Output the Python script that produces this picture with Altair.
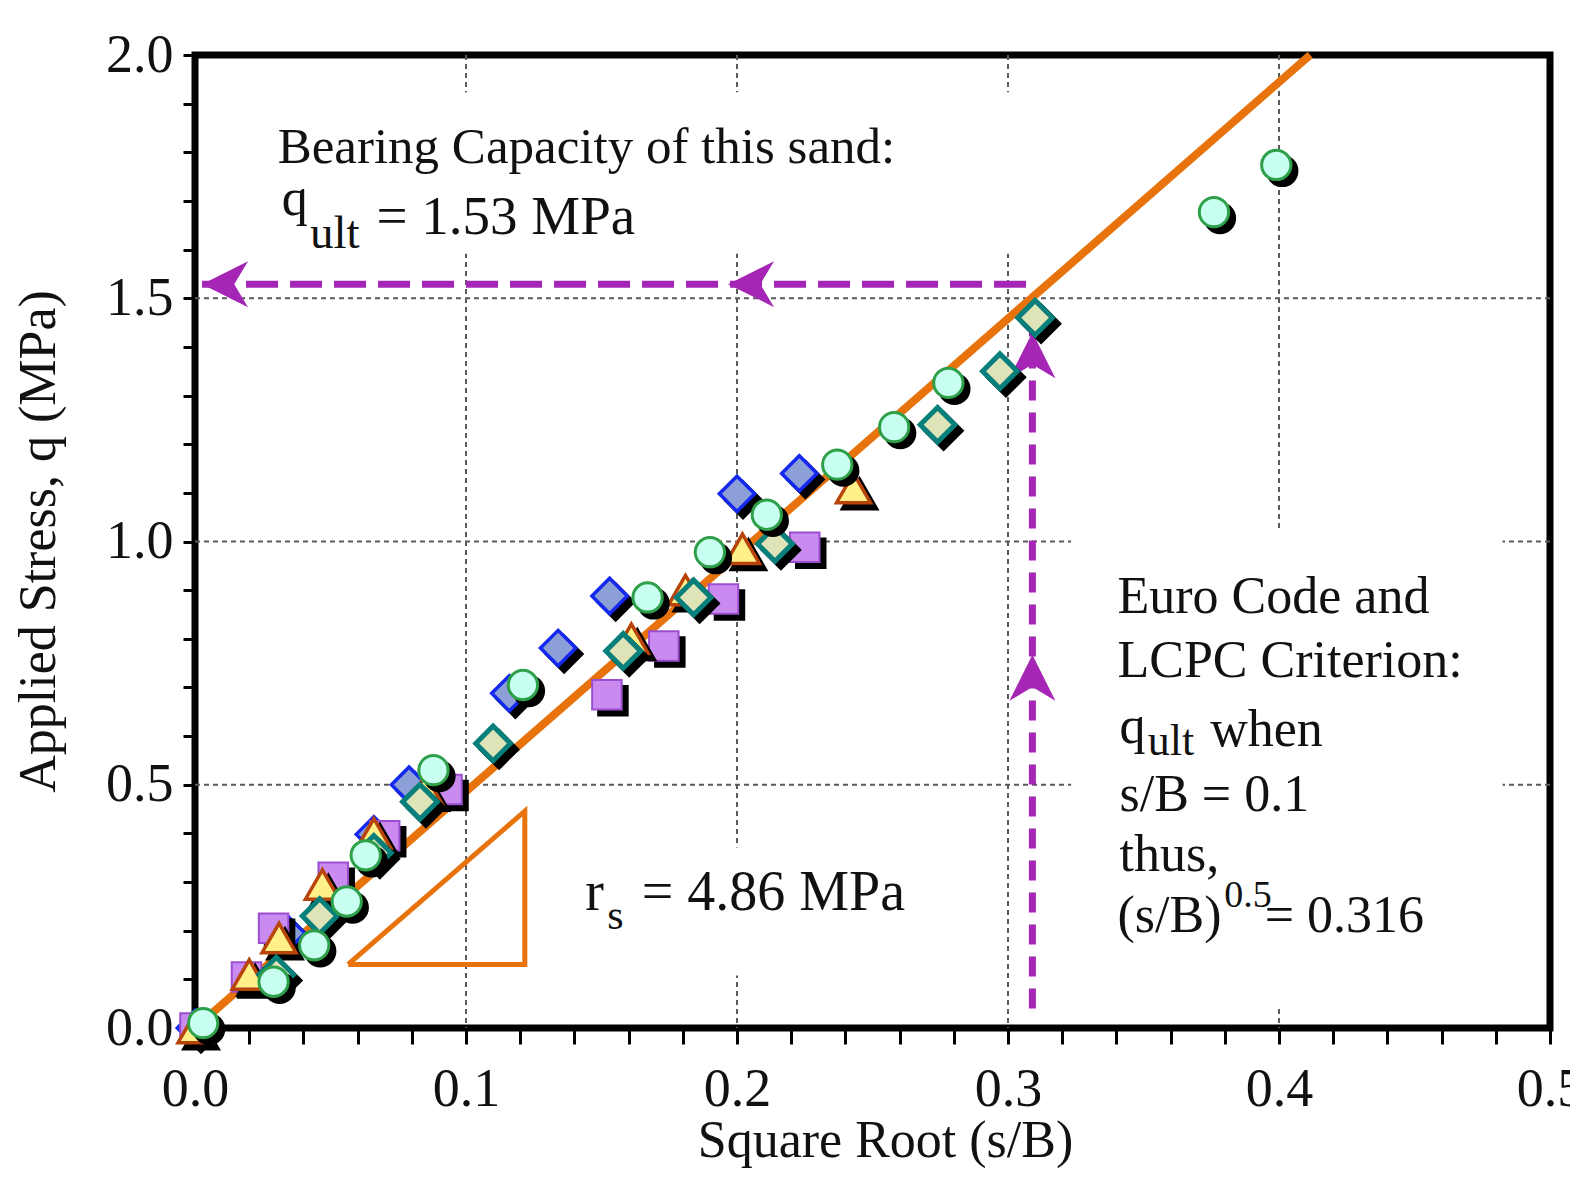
import altair as alt
import pandas as pd

# ---------------- data ----------------
blue_x = [0.0, 0.034, 0.066, 0.079, 0.116, 0.134, 0.153, 0.200, 0.223]
blue_y = [0.0, 0.195, 0.398, 0.500, 0.688, 0.781, 0.888, 1.098, 1.140]

square_x = [0.0, 0.019, 0.029, 0.051, 0.070, 0.093, 0.152, 0.173, 0.195, 0.225]
square_y = [0.0, 0.105, 0.205, 0.310, 0.395, 0.490, 0.685, 0.785, 0.882, 0.988]

tri_x = [0.0, 0.020, 0.031, 0.047, 0.066, 0.085, 0.161, 0.181, 0.202, 0.243]
tri_y = [0.0, 0.110, 0.185, 0.295, 0.400, 0.490, 0.800, 0.900, 0.985, 1.110]

teal_x = [0.030, 0.046, 0.066, 0.083, 0.110, 0.158, 0.184, 0.214, 0.274, 0.297, 0.310]
teal_y = [0.110, 0.230, 0.360, 0.465, 0.585, 0.775, 0.885, 0.995, 1.240, 1.350, 1.460]

circle_x = [0.003, 0.029, 0.044, 0.056, 0.063, 0.088, 0.121, 0.167, 0.190, 0.211,
            0.237, 0.258, 0.278, 0.376, 0.399]
circle_y = [0.010, 0.095, 0.170, 0.260, 0.355, 0.530, 0.705, 0.885, 0.978, 1.055,
            1.158, 1.235, 1.326, 1.677, 1.774]

fit_x = [0.0, 0.4115]
fit_y = [0.0, 2.0]

# slope triangle (r_s indicator)
slope_x = [0.0565, 0.1217, 0.1217, 0.0565]
slope_y = [0.1306, 0.1306, 0.4456, 0.1306]

q_ult = 1.529          # horizontal purple arrow level
x_crit = 0.309         # vertical purple arrow position

x_major = [0.1, 0.2, 0.3, 0.4]
y_major = [0.5, 1.0, 1.5]
x_ticks = [round(i * 0.02, 2) for i in range(26)]
y_ticks = [round(i * 0.1, 1) for i in range(21)]

# ---------------- layout helpers ----------------
W, H = 1355, 973
def X(px):
    return (px - 193) / 2688.0
def Y(py):
    return (1020 - py) / 482.5

xs = alt.Scale(domain=[0, 0.5], nice=False, zero=False)
ys = alt.Scale(domain=[0, 2.0], nice=False, zero=False)

PURPLE = "#a526b5"
ORANGE = "#e8730c"

# gridlines
gx = alt.Chart(pd.DataFrame({"x": x_major})).mark_rule(
    color="#5a5a5a", strokeWidth=2, strokeDash=[5, 4]
).encode(x=alt.X("x:Q", scale=xs), y=alt.value(0), y2=alt.value(H))
gy = alt.Chart(pd.DataFrame({"y": y_major})).mark_rule(
    color="#5a5a5a", strokeWidth=2, strokeDash=[5, 4]
).encode(y=alt.Y("y:Q", scale=ys), x=alt.value(0), x2=alt.value(W))

# white boxes behind the text blocks (they interrupt the grid)
boxes = pd.DataFrame({
    "x": [X(265), X(1062), X(560)],
    "x2": [X(1012), X(1490), X(905)],
    "y": [Y(92), Y(527), Y(841)],
    "y2": [Y(252), Y(1000), Y(968)],
})
box_layer = alt.Chart(boxes).mark_rect(fill="white").encode(
    x=alt.X("x:Q", scale=xs), x2="x2:Q", y=alt.Y("y:Q", scale=ys), y2="y2:Q"
)

fit = alt.Chart(pd.DataFrame({"x": fit_x, "y": fit_y})).mark_line(
    color=ORANGE, strokeWidth=8
).encode(x=alt.X("x:Q", scale=xs), y=alt.Y("y:Q", scale=ys))

slope = alt.Chart(pd.DataFrame({"x": slope_x, "y": slope_y, "o": list(range(4))})).mark_line(
    color=ORANGE, strokeWidth=5, strokeJoin="miter"
).encode(x=alt.X("x:Q", scale=xs), y=alt.Y("y:Q", scale=ys), order="o:Q")

hline = alt.Chart(pd.DataFrame({"x": [0.0026], "x2": [x_crit], "y": [q_ult]})).mark_rule(
    color=PURPLE, strokeWidth=7, strokeDash=[32, 12]
).encode(x=alt.X("x:Q", scale=xs), x2="x2:Q", y=alt.Y("y:Q", scale=ys))
vline = alt.Chart(pd.DataFrame({"x": [x_crit], "y": [0.04], "y2": [1.43]})).mark_rule(
    color=PURPLE, strokeWidth=7, strokeDash=[20, 12]
).encode(x=alt.X("x:Q", scale=xs), y=alt.Y("y:Q", scale=ys), y2="y2:Q")

left_head = "M 0 0 L 2 -1 L 1.4 0 L 2 1 Z"
up_head = "M 0 0 L 1 2 L 0 1.4 L -1 2 Z"
heads_l = alt.Chart(pd.DataFrame({"x": [0.0026, 0.1967], "y": [q_ult, q_ult]})).mark_point(
    shape=left_head, filled=True, color=PURPLE, size=2116, opacity=1
).encode(x=alt.X("x:Q", scale=xs), y=alt.Y("y:Q", scale=ys))
heads_u = alt.Chart(pd.DataFrame({"x": [x_crit, x_crit], "y": [1.43, 0.767]})).mark_point(
    shape=up_head, filled=True, color=PURPLE, size=2116, opacity=1
).encode(x=alt.X("x:Q", scale=xs), y=alt.Y("y:Q", scale=ys))


def series(xv, yv, shape, fill, stroke, size, sw):
    df = pd.DataFrame({"x": xv, "y": yv})
    enc = dict(x=alt.X("x:Q", scale=xs), y=alt.Y("y:Q", scale=ys))
    shadow = alt.Chart(df).mark_point(
        shape=shape, filled=True, fill="black", stroke="black", strokeWidth=sw,
        size=size, opacity=1, xOffset=6, yOffset=6
    ).encode(**enc)
    main = alt.Chart(df).mark_point(
        shape=shape, filled=True, fill=fill, stroke=stroke, strokeWidth=sw,
        size=size, opacity=1
    ).encode(**enc)
    return [shadow, main]


pts = []
pts += series(blue_x, blue_y, "diamond", "#8c9fd6", "#1428f0", 1250, 3.5)
pts += series(square_x, square_y, "square", "#c98bf0", "#9b4fd0", 870, 2)
pts += series(tri_x, tri_y, "triangle-up", "#fff08a", "#b8440a", 1150, 3.5)
pts += series(teal_x, teal_y, "diamond", "#dfe4b8", "#087f7a", 1200, 5)
pts += series(circle_x, circle_y, "circle", "#c8fff0", "#2ea04a", 860, 3)

# annotation text pieces: (text, left px, baseline px, font size)
ann = [
    ("Bearing Capacity of this sand:", 275, 162, 51),
    ("q", 279, 214, 52),
    ("ult", 307, 246, 47),
    ("= 1.53 MPa", 373, 233, 55),
    ("r", 580, 903, 56),
    ("s", 602, 922, 42),
    ("= 4.86 MPa", 636, 903, 56),
    ("Euro Code and", 1108, 608, 52),
    ("LCPC Criterion:", 1108, 672, 52),
    ("q", 1110, 737, 52),
    ("ult", 1138, 749, 44),
    ("when", 1200, 740, 52),
    ("s/B = 0.1", 1110, 805, 52),
    ("thus,", 1110, 864, 52),
    ("(s/B)", 1108, 925, 52),
    ("0.5", 1214, 900, 38),
    ("= 0.316", 1254, 925, 52),
]
ann_df = pd.DataFrame({
    "t": [a[0] for a in ann],
    "x": [X(a[1]) for a in ann],
    "y": [Y(a[2]) for a in ann],
    "s": [a[3] for a in ann],
})
text = alt.Chart(ann_df).mark_text(
    align="left", baseline="alphabetic", font="Liberation Serif", color="#111111"
).encode(
    x=alt.X("x:Q", scale=xs), y=alt.Y("y:Q", scale=ys), text="t:N",
    size=alt.Size("s:Q", scale=None, legend=None)
)

# axes carried by an invisible layer
axis_layer = alt.Chart(pd.DataFrame({"x": [0.0], "y": [0.0]})).mark_point(opacity=0).encode(
    x=alt.X("x:Q", scale=xs, axis=alt.Axis(
        values=x_ticks, title="Square Root (s/B)", grid=False, domain=False,
        labelExpr="abs(datum.value*10 - round(datum.value*10)) < 0.001 ? format(datum.value, '.1f') : ''",
        labelOverlap=False, labelFlush=False, tickSize=16, tickWidth=3, tickColor="black",
        labelPadding=18, labelFontSize=54, labelFont="Liberation Serif", labelColor="#111111",
        titleFontSize=52, titleFont="Liberation Serif", titleFontWeight="normal", titleColor="#111111",
        titleX=690, titleY=128, titleBaseline="alphabetic", titleAnchor="middle",
    )),
    y=alt.Y("y:Q", scale=ys, axis=alt.Axis(
        values=y_ticks, title="Applied Stress, q (MPa)", grid=False, domain=False,
        labelExpr="abs(datum.value*2 - round(datum.value*2)) < 0.001 ? format(datum.value, '.1f') : ''",
        labelOverlap=False, labelFlush=False, tickSize=12, tickWidth=3, tickColor="black",
        labelPadding=10, labelFontSize=54, labelFont="Liberation Serif", labelColor="#111111",
        titleFontSize=52, titleFont="Liberation Serif", titleFontWeight="normal", titleColor="#111111",
        titleX=-157, titleY=486, titleAngle=-90, titleBaseline="middle", titleAlign="center",
    )),
)

chart = alt.layer(
    axis_layer, gx, gy, box_layer, fit, slope, hline, vline, heads_l, heads_u, *pts, text
).properties(
    width=W, height=H,
    autosize=alt.AutoSizeParams(type="none"),
    padding={"left": 187, "top": 47, "right": 20, "bottom": 140},
    background="white",
).configure_view(stroke="black", strokeWidth=7)

chart.save("out.html", embed_options={"renderer": "svg", "actions": False})
